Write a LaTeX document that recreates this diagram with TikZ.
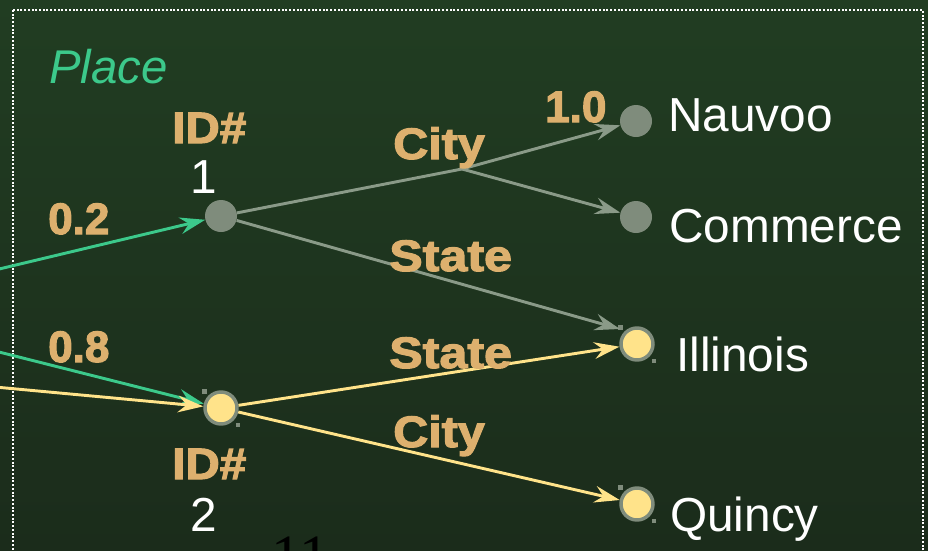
\documentclass[tikz,border=0pt]{standalone}
\usepackage{fontspec}
\setmainfont{Liberation Sans}
\newfontfamily\tanfont{Liberation Sans Bold}[FakeBold=2.5]
\newfontfamily\serifnum{Liberation Serif}
\usetikzlibrary{arrows.meta,calc}
\definecolor{bgtop}{HTML}{213D22}
\definecolor{bgbot}{HTML}{1B2C1B}
\definecolor{tan}{HTML}{DDB06E}
\definecolor{grn}{HTML}{3CC98B}
\definecolor{ngray}{HTML}{7F8C7C}
\definecolor{lgray}{HTML}{8A9A88}
\definecolor{ylw}{HTML}{FFE38A}
\tikzset{
  gnode/.style={circle, fill=ngray, inner sep=0pt, minimum size=24pt},
  ynode/.style={circle, fill=ylw, draw=ngray, line width=2.6pt, inner sep=0pt, minimum size=24pt},
  tanlbl/.style={inner sep=0pt, anchor=base west, text=tan, font=\tanfont\fontsize{33}{36}\selectfont},
  whlbl/.style={inner sep=0pt, anchor=base west, text=white, font=\fontsize{35.8}{40}\selectfont},
  arr/.style={-{Stealth[length=19pt, width=12.5pt, inset=6.5pt]}},
  gline/.style={draw=lgray, line width=2.2pt},
  yline/.style={draw=ylw, line width=2.2pt},
  grline/.style={draw=grn, line width=2.2pt},
  handle/.style={fill=ngray}
}
\begin{document}
\begin{tikzpicture}[x=0.75pt, y=-0.75pt]
\useasboundingbox (0,0) rectangle (928,550);
\clip (0,0) rectangle (928,550);
\shade[top color=bgtop, bottom color=bgbot] (0,0) rectangle (928,550);
\draw[white, line width=2.2pt, dash pattern=on 1.5pt off 1.3pt] (13,10) rectangle (923,570);

% nodes
\node[gnode] (id1) at (221,216) {};
\node[ynode] (id2) at (221,408) {};
\node[gnode] (nau) at (636,121) {};
\node[gnode] (com) at (636,217) {};
\node[ynode] (ill) at (637,344) {};
\node[ynode] (qui) at (637,504) {};

% selection handles
\foreach \n in {id2,ill,qui}{
  \fill[handle] ($(\n)+(-19,-19)$) rectangle +(4.5,4.5);
  \fill[handle] ($(\n)+(14.5,14.5)$) rectangle +(4.5,4.5);
}

% connectors
\coordinate (j) at (462,169);
\coordinate (illtl) at (620,329);
\coordinate (g1) at (-5,270);
\coordinate (g2) at (-5,351);
\coordinate (y1) at (-5,387);
\draw[gline] (id1) -- (j);
\draw[gline,arr] (j) -- (nau);
\draw[gline,arr] (j) -- (com);
\draw[gline,arr] (id1) -- (illtl);
\draw[yline,arr] (id2) -- (ill);
\draw[yline,arr] (id2) -- (qui);
\draw[grline,arr] (g1) -- (id1);
\draw[grline,arr] (g2) -- (id2);
\draw[yline,arr] (y1) -- (id2);

% labels
\node[inner sep=0pt, anchor=base west, text=grn, font=\itshape\fontsize{35.5}{40}\selectfont] (place) at (49,83) {Place};
\node[tanlbl, xscale=1.08] (idA) at (172,143) {ID\#};
\node[whlbl, anchor=base] (one) at (204,193) {1};
\node[tanlbl, xscale=1.08] (idB) at (172,479) {ID\#};
\node[whlbl, anchor=base] (two) at (204,531) {2};
\node[tanlbl] (p02) at (48,234) {0.2};
\node[tanlbl] (p08) at (48,362) {0.8};
\node[tanlbl] (p10) at (545,122) {1.0};
\node[tanlbl, xscale=1.1] (cityA) at (393,159) {City};
\node[tanlbl, xscale=1.14] (stateA) at (389,271) {State};
\node[tanlbl, xscale=1.14] (stateB) at (389,368) {State};
\node[tanlbl, xscale=1.1] (cityB) at (393,447) {City};
\node[whlbl] (tnau) at (668,131) {Nauvoo};
\node[whlbl] (tcom) at (669,242) {Commerce};
\node[whlbl] (till) at (676,371) {Illinois};
\node[whlbl] (tqui) at (670,531) {Quincy};
\node[inner sep=0pt, anchor=base west, text=black, font=\serifnum\fontsize{45}{50}\selectfont] (pg) at (271,576) {11};
\end{tikzpicture}
\end{document}
